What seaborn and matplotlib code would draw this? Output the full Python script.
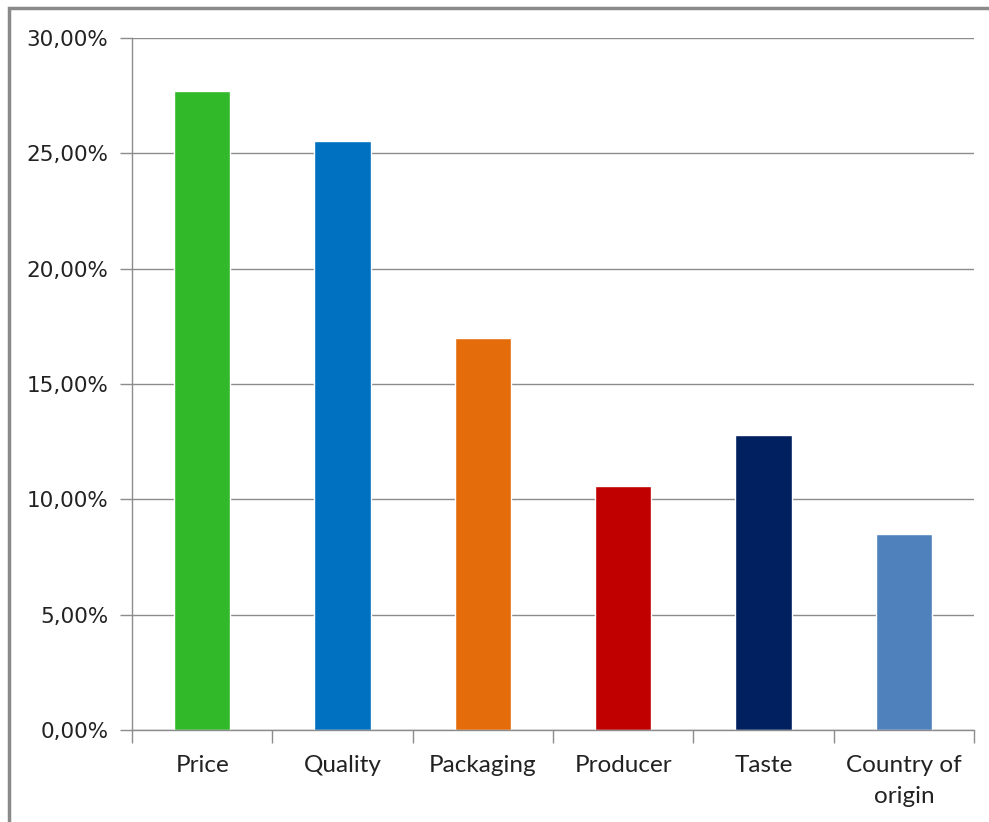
import matplotlib
matplotlib.use("Agg")
import matplotlib.pyplot as plt
import seaborn as sns
import pandas as pd
from matplotlib.patches import Rectangle
from matplotlib.ticker import FuncFormatter, MultipleLocator, FixedLocator

categories = ["Price", "Quality", "Packaging", "Producer", "Taste", "Country of\norigin"]
values = [27.70, 25.53, 17.00, 10.56, 12.80, 8.51]
colors = ["#31B92A", "#0070C0", "#E46C0A", "#C00000", "#002060", "#4F81BD"]

sns.set_theme(style="white")
plt.rcParams['font.family'] = ['DejaVu Sans']

fig = plt.figure(figsize=(9.89, 8.22), dpi=100)
ax = fig.add_axes([132/989, 1-730/822, (974-132)/989, (730-38)/822])

df = pd.DataFrame({"cat": categories, "val": values})
sns.barplot(data=df, x="cat", y="val", hue="cat", palette=colors, width=0.4,
            legend=False, ax=ax, saturation=1)

ax.set_xlim(-0.5, 5.5)
ax.set_ylim(0, 30)
ax.yaxis.set_major_locator(MultipleLocator(5))
ax.yaxis.set_major_formatter(FuncFormatter(lambda v, p: f"{v:.2f}".replace(".", ",") + "%"))
ax.grid(axis="y", color="#8c8c8c", linewidth=1)
ax.set_axisbelow(True)
ax.set_xlabel("")
ax.set_ylabel("")

for s in ["top", "right"]:
    ax.spines[s].set_visible(False)
for s in ["left", "bottom"]:
    ax.spines[s].set_color("#8c8c8c")
    ax.spines[s].set_linewidth(1)

ax.tick_params(axis="y", which="major", direction="out", length=9, width=1, color="#8c8c8c",
               labelsize=15.5, labelcolor="#222222", left=True, pad=8)
ax.tick_params(axis="x", which="major", length=0, pad=18)
ax.xaxis.set_minor_locator(FixedLocator([-0.5 + i for i in range(7)]))
ax.tick_params(axis="x", which="minor", direction="out", length=9, width=1, color="#8c8c8c", bottom=True)
for lbl in ax.get_xticklabels():
    lbl.set_fontfamily(["Lato", "DejaVu Sans"])
    lbl.set_fontsize(17.5)
    lbl.set_color("#222222")
    lbl.set_linespacing(1.6)
    lbl.set_verticalalignment("top")

fig.patches.append(Rectangle((9/989, -0.1), 1.2, 1-8/822+0.1, transform=fig.transFigure,
                             fill=False, edgecolor="#8a8a8a", linewidth=2.5, zorder=10))

fig.savefig("out.png", dpi=100)
